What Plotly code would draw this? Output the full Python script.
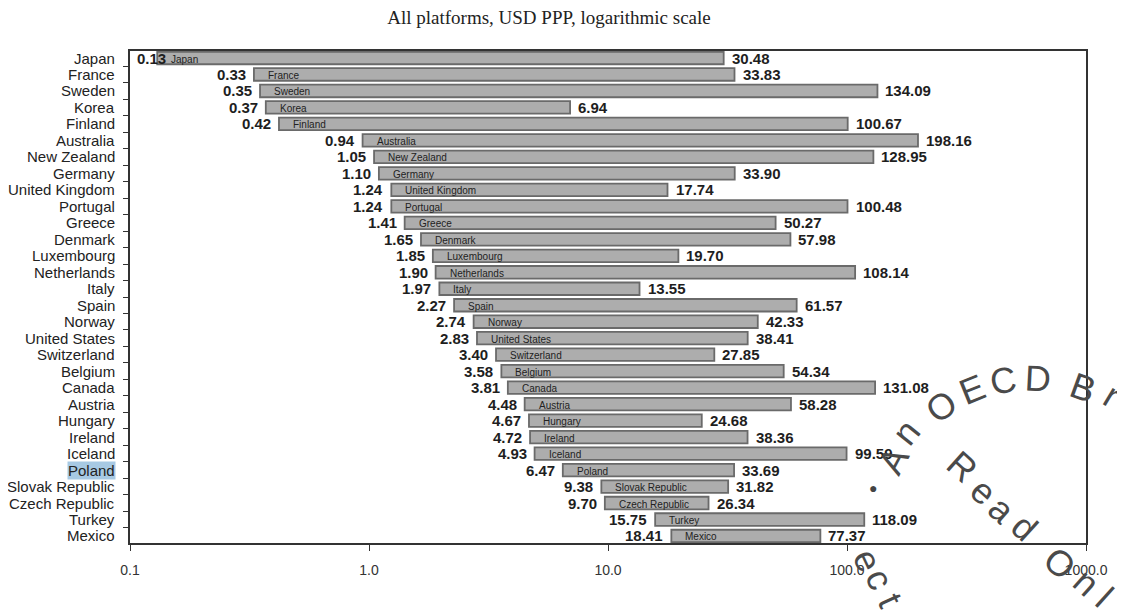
import math
import plotly.graph_objects as go

countries = ["Japan", "France", "Sweden", "Korea", "Finland", "Australia", "New Zealand",
             "Germany", "United Kingdom", "Portugal", "Greece", "Denmark", "Luxembourg",
             "Netherlands", "Italy", "Spain", "Norway", "United States", "Switzerland",
             "Belgium", "Canada", "Austria", "Hungary", "Ireland", "Iceland", "Poland",
             "Slovak Republic", "Czech Republic", "Turkey", "Mexico"]
min_vals = [0.13, 0.33, 0.35, 0.37, 0.42, 0.94, 1.05, 1.10, 1.24, 1.24, 1.41, 1.65, 1.85,
            1.90, 1.97, 2.27, 2.74, 2.83, 3.40, 3.58, 3.81, 4.48, 4.67, 4.72, 4.93, 6.47,
            9.38, 9.70, 15.75, 18.41]
max_vals = [30.48, 33.83, 134.09, 6.94, 100.67, 198.16, 128.95, 33.90, 17.74, 100.48, 50.27,
            57.98, 19.70, 108.14, 13.55, 61.57, 42.33, 38.41, 27.85, 54.34, 131.08, 58.28,
            24.68, 38.36, 99.59, 33.69, 31.82, 26.34, 118.09, 77.37]
x_tickvals = [0.1, 1, 10, 100, 1000]
x_ticktext = ["0.1", "1.0", "10.0", "100.0", "1000.0"]
highlight = "Poland"
title_text = "All platforms, USD PPP, logarithmic scale"

FONT = "Liberation Sans, Arial, sans-serif"
OFF = 8  # browser body margin
W, H = 1117, 602
ML, MR, MT, MB = 122, 39, 43, 67

fig = go.Figure()
fig.add_trace(go.Bar(
    y=countries,
    x=[b - a for a, b in zip(min_vals, max_vals)],
    base=min_vals,
    orientation="h",
    width=0.76,
    marker=dict(color="#adadad", line=dict(color="#6a6a6a", width=1.8)),
    hoverinfo="skip",
    showlegend=False,
))

VAL = dict(family=FONT, size=15, color="#1e1e1e")
ann = []
for c, a, b in zip(countries, min_vals, max_vals):
    if a < 0.2:
        ann.append(dict(x=math.log10(x_tickvals[0]), y=c, xref="x", yref="y",
                        text=f"<b>{a:.2f}</b>", xanchor="left", xshift=5, showarrow=False,
                        font=VAL))
    else:
        ann.append(dict(x=math.log10(a), y=c, xref="x", yref="y", text=f"<b>{a:.2f}</b>",
                        xanchor="right", xshift=-6, showarrow=False, font=VAL))
    ann.append(dict(x=math.log10(b), y=c, xref="x", yref="y", text=f"<b>{b:.2f}</b>",
                    xanchor="left", xshift=6, showarrow=False, font=VAL))
    ann.append(dict(x=math.log10(a), y=c, xref="x", yref="y", text=c,
                    xanchor="left", xshift=12, yshift=-1, showarrow=False,
                    font=dict(family=FONT, size=10, color="#222")))
    ann.append(dict(x=0, y=c, xref="paper", yref="y", text=c, xanchor="right", xshift=-14,
                    showarrow=False, borderpad=0,
                    bgcolor=("#a7c9e3" if c == highlight else "rgba(0,0,0,0)"),
                    font=dict(family=FONT, size=15, color="#222")))

# watermark stamp (decorative), positioned in window pixel space
pw, ph = W - ML - MR, H - MT - MB
def px2paper(px, py):
    return (px - OFF - ML) / pw, (H - MB - (py - OFF)) / ph

cx, cy, r = 1030, 533, 155
arc_letters = [("A", -152, 0), ("n", -141, 5), ("O", -125, 0), ("E", -112, 0), ("C", -100, 0),
               ("D", -87, 0), ("B", -70, 0), ("r", -59, 5), ("o", -49, 5)]
WM = dict(family=FONT, size=36, color="#4a4a4a")
for ch, ang, dr in arc_letters:
    rr = r + dr
    px = cx + rr * math.cos(math.radians(ang))
    py = cy + rr * math.sin(math.radians(ang))
    xp, yp = px2paper(px, py)
    ann.append(dict(x=xp, y=yp, xref="paper", yref="paper", text=ch, showarrow=False,
                    textangle=ang + 90, font=WM, xanchor="center", yanchor="middle"))
line_letters = [("R", 962, 467), ("e", 984, 491), ("a", 1002, 509), ("d", 1025, 527),
                ("O", 1060, 563), ("n", 1087, 582), ("l", 1105, 597)]
for ch, px, py in line_letters:
    xp, yp = px2paper(px, py)
    ann.append(dict(x=xp, y=yp, xref="paper", yref="paper", text=ch, showarrow=False,
                    textangle=42, font=WM, xanchor="center", yanchor="middle"))
for ch, px, py in [("e", 868, 560), ("c", 880, 579), ("t", 891, 600)]:
    xp, yp = px2paper(px, py)
    ann.append(dict(x=xp, y=yp, xref="paper", yref="paper", text=ch, showarrow=False,
                    textangle=65, font=WM, xanchor="center", yanchor="middle"))
xp, yp = px2paper(879, 498)
ann.append(dict(x=xp, y=yp, xref="paper", yref="paper", text="●", showarrow=False,
                font=dict(family=FONT, size=14, color="#444")))

fig.update_layout(
    width=W, height=H,
    margin=dict(l=ML, r=MR, t=MT, b=MB),
    paper_bgcolor="white", plot_bgcolor="white",
    title=dict(text=title_text, x=(549 - OFF) / W, xanchor="center",
               y=1 - (17 - OFF) / H, yanchor="middle",
               font=dict(family="Liberation Serif, Times New Roman, serif", size=19,
                         color="#222")),
    annotations=ann,
)
fig.update_xaxes(type="log", range=[-1, 3], tickvals=x_tickvals, ticktext=x_ticktext,
                 ticks="outside", ticklen=6, tickcolor="#333", showgrid=False, zeroline=False,
                 showline=True, linecolor="#333", linewidth=1.5, mirror=True,
                 ticklabelstandoff=7, tickfont=dict(family=FONT, size=14, color="#333"))
fig.update_yaxes(type="category", categoryorder="array", categoryarray=countries,
                 range=[len(countries) - 1 + 0.425, -0.425], tickson="boundaries",
                 ticks="outside", ticklen=5, tickcolor="#333", showticklabels=False,
                 showgrid=False, zeroline=False, showline=True, linecolor="#333",
                 linewidth=1.5, mirror=True)

fig.write_html("out.html")
